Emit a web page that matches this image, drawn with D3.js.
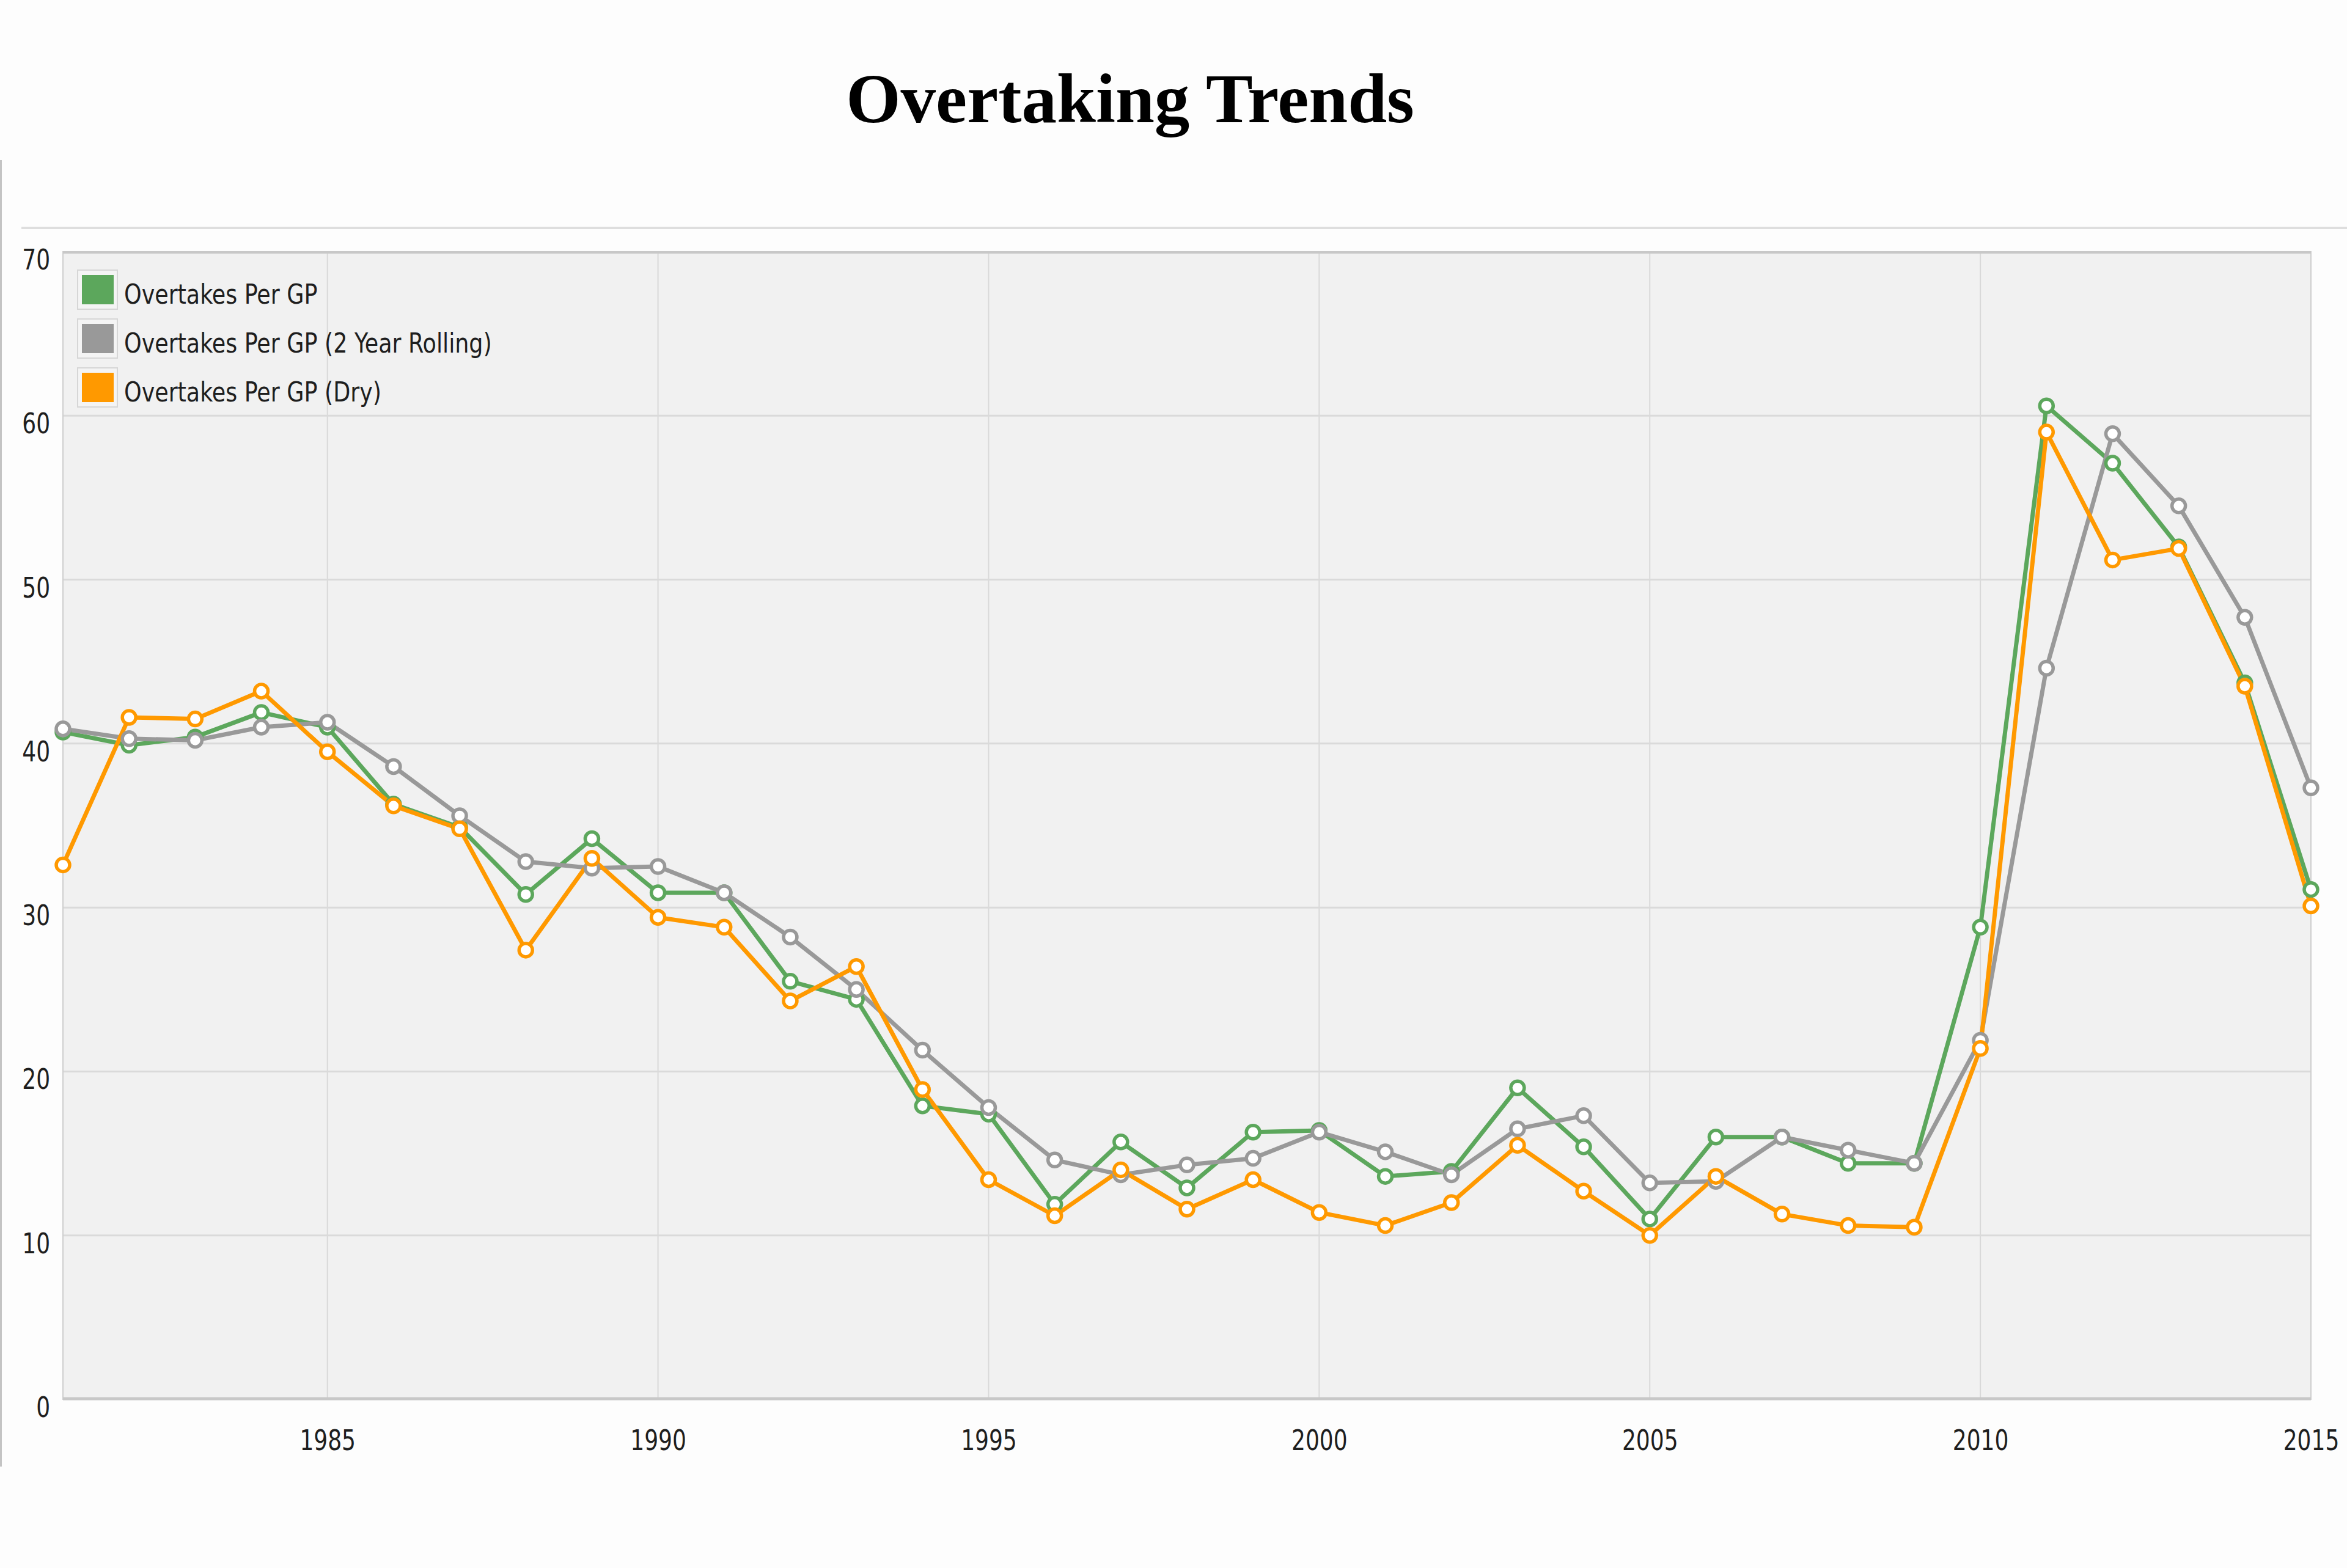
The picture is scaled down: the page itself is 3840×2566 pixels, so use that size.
<!DOCTYPE html>
<html>
<head>
<meta charset="utf-8">
<title>Overtaking Trends</title>
<script src="https://cdn.jsdelivr.net/npm/d3@7"></script>
<style>
  body { margin: 0; background: #fdfdfd; }
  .tick-label { font-family: "Liberation Sans Narrow", "DejaVu Sans Condensed", "Liberation Sans", sans-serif; font-size: 46px; fill: #1e1e1e; }
  .legend-text { font-family: "Liberation Sans Narrow", "DejaVu Sans Condensed", "Liberation Sans", sans-serif; font-size: 45px; fill: #1e1e1e; }
</style>
</head>
<body>
<div id="chart"></div>
<script>
// data
var years = [1981, 1982, 1983, 1984, 1985, 1986, 1987, 1988, 1989, 1990,
  1991, 1992, 1993, 1994, 1995, 1996, 1997, 1998, 1999, 2000,
  2001, 2002, 2003, 2004, 2005, 2006, 2007, 2008, 2009, 2010,
  2011, 2012, 2013, 2014, 2015];

var perGP = [40.7, 39.9, 40.4, 41.9, 41.0, 36.3, 34.9, 30.8, 34.2, 30.9,
  30.9, 25.5, 24.4, 17.9, 17.4, 11.9, 15.7, 12.9, 16.3, 16.4,
  13.6, 13.9, 19.0, 15.4, 11.0, 16.0, 16.0, 14.4, 14.4, 28.8,
  60.6, 57.1, 52.0, 43.7, 31.1];

var rolling = [40.9, 40.3, 40.2, 41.0, 41.3, 38.6, 35.6, 32.8, 32.4, 32.5,
  30.9, 28.2, 25.0, 21.3, 17.8, 14.6, 13.7, 14.3, 14.7, 16.3,
  15.1, 13.7, 16.5, 17.3, 13.2, 13.3, 16.0, 15.2, 14.4, 21.9,
  44.6, 58.9, 54.5, 47.7, 37.3];

var dry = [32.6, 41.6, 41.5, 43.2, 39.5, 36.2, 34.8, 27.4, 33.0, 29.4,
  28.8, 24.3, 26.4, 18.9, 13.4, 11.2, 14.0, 11.6, 13.4, 11.4,
  10.6, 12.0, 15.5, 12.7, 10.0, 13.6, 11.3, 10.6, 10.5, 21.4,
  59.0, 51.2, 51.9, 43.5, 30.1];

var seriesNames = ["Overtakes Per GP", "Overtakes Per GP (2 Year Rolling)", "Overtakes Per GP (Dry)"];
var seriesColors = ["#5ca75c", "#999999", "#ff9900"];
var xTicks = [1985, 1990, 1995, 2000, 2005, 2010, 2015];
var yTicks = [0, 10, 20, 30, 40, 50, 60, 70];

var svgWidth = 3840;
var svgHeight = 2566;
var squeeze = 0.87; // the reference text is drawn narrow
var legendSqueeze = 0.9;

var plot = { left: 103, right: 3781, top: 412, bottom: 2290 };

var svg = d3.select("#chart")
  .append("svg")
  .attr("width", svgWidth)
  .attr("height", svgHeight)
  .style("display", "block");

svg.append("rect")
  .attr("width", svgWidth)
  .attr("height", svgHeight)
  .attr("fill", "#fdfdfd");

// title
svg.append("text")
  .attr("x", 1849)
  .attr("y", 200)
  .attr("text-anchor", "middle")
  .style("font-family", "'Liberation Serif', 'Times New Roman', serif")
  .style("font-weight", "bold")
  .style("font-size", "115px")
  .attr("fill", "#000")
  .text("Overtaking Trends");

// container lines
svg.append("line")
  .attr("x1", 35).attr("x2", svgWidth)
  .attr("y1", 373).attr("y2", 373)
  .attr("stroke", "#dedede")
  .attr("stroke-width", 4);

svg.append("line")
  .attr("x1", 1.5).attr("x2", 1.5)
  .attr("y1", 262).attr("y2", 2400)
  .attr("stroke", "#c4c4c4")
  .attr("stroke-width", 3);

var xScale = d3.scaleLinear()
  .domain([1981, 2015])
  .range([plot.left, plot.right]);

var yScale = d3.scaleLinear()
  .domain([0, 70])
  .range([plot.bottom, plot.top]);

// plot background
svg.append("rect")
  .attr("x", plot.left)
  .attr("y", plot.top)
  .attr("width", plot.right - plot.left)
  .attr("height", plot.bottom - plot.top)
  .attr("fill", "#f1f1f1");

// grid
svg.append("g")
  .selectAll("line")
  .data(xTicks.filter(d => d < 2015))
  .enter()
  .append("line")
  .attr("x1", d => xScale(d)).attr("x2", d => xScale(d))
  .attr("y1", plot.top).attr("y2", plot.bottom)
  .attr("stroke", "#d9d9d9")
  .attr("stroke-width", 2);

svg.append("g")
  .selectAll("line")
  .data(yTicks.filter(d => d > 0 && d < 70))
  .enter()
  .append("line")
  .attr("x1", plot.left).attr("x2", plot.right)
  .attr("y1", d => yScale(d)).attr("y2", d => yScale(d))
  .attr("stroke", "#dadada")
  .attr("stroke-width", 3);

// frame
svg.append("rect")
  .attr("x", plot.left)
  .attr("y", plot.top)
  .attr("width", plot.right - plot.left)
  .attr("height", plot.bottom - plot.top)
  .attr("fill", "none")
  .attr("stroke", "#cfcfcf")
  .attr("stroke-width", 2);

svg.append("line")
  .attr("x1", plot.left).attr("x2", plot.right)
  .attr("y1", plot.top + 1).attr("y2", plot.top + 1)
  .attr("stroke", "#c8c8c8")
  .attr("stroke-width", 4);

svg.append("line")
  .attr("x1", plot.left).attr("x2", plot.right)
  .attr("y1", plot.bottom - 1).attr("y2", plot.bottom - 1)
  .attr("stroke", "#c8c8c8")
  .attr("stroke-width", 5);

// axes labels
var bottomAxis = d3.axisBottom(xScale)
  .tickValues(xTicks)
  .tickFormat(d3.format("d"))
  .tickSize(0)
  .tickPadding(50);

var xAxisGroup = svg.append("g")
  .attr("transform", `translate(0, ${plot.bottom})`)
  .call(bottomAxis);
xAxisGroup.select(".domain").remove();
xAxisGroup.attr("font-size", null).attr("font-family", null);
xAxisGroup.selectAll("text")
  .attr("class", "tick-label")
  .attr("dy", "0.71em")
  .attr("fill", "#1e1e1e")
  .attr("transform", `scale(${squeeze}, 1)`);

var leftAxis = d3.axisLeft(yScale)
  .tickValues(yTicks)
  .tickSize(0)
  .tickPadding(24);

var yAxisGroup = svg.append("g")
  .attr("transform", `translate(${plot.left}, 0)`)
  .call(leftAxis);
yAxisGroup.select(".domain").remove();
yAxisGroup.attr("font-size", null).attr("font-family", null);
yAxisGroup.selectAll("text")
  .attr("class", "tick-label")
  .attr("dy", "0.62em")
  .attr("fill", "#1e1e1e")
  .attr("transform", `scale(${squeeze}, 1)`);

// series
var allSeries = [perGP, rolling, dry].map(function(vals, i) {
  return {
    name: seriesNames[i],
    color: seriesColors[i],
    points: years.map(function(y, j) { return { year: y, value: vals[j] }; })
  };
});

var line = d3.line()
  .x(d => xScale(d.year))
  .y(d => yScale(d.value));

svg.append("g")
  .selectAll("path")
  .data(allSeries)
  .enter()
  .append("path")
  .attr("d", d => line(d.points))
  .attr("fill", "none")
  .attr("stroke", d => d.color)
  .attr("stroke-width", 7)
  .attr("stroke-linejoin", "round");

allSeries.forEach(function(s) {
  svg.append("g")
    .selectAll("circle")
    .data(s.points)
    .enter()
    .append("circle")
    .attr("cx", d => xScale(d.year))
    .attr("cy", d => yScale(d.value))
    .attr("r", 11)
    .attr("fill", "#ffffff")
    .attr("stroke", s.color)
    .attr("stroke-width", 5.5);
});

// legend
var legend = svg.append("g")
  .attr("transform", "translate(126, 441)");

var legendItems = legend.selectAll("g")
  .data(allSeries)
  .enter()
  .append("g")
  .attr("transform", (d, i) => `translate(0, ${i * 80})`);

legendItems.append("rect")
  .attr("x", 1).attr("y", 1)
  .attr("width", 65).attr("height", 64)
  .attr("fill", "#f4f4f4")
  .attr("stroke", "#d6d6d6")
  .attr("stroke-width", 2);

legendItems.append("rect")
  .attr("x", 8).attr("y", 9)
  .attr("width", 52).attr("height", 48)
  .attr("fill", d => d.color);

legendItems.append("text")
  .attr("class", "legend-text")
  .attr("transform", `translate(77, 56) scale(${legendSqueeze}, 1)`)
  .text(d => d.name);
</script>
</body>
</html>
